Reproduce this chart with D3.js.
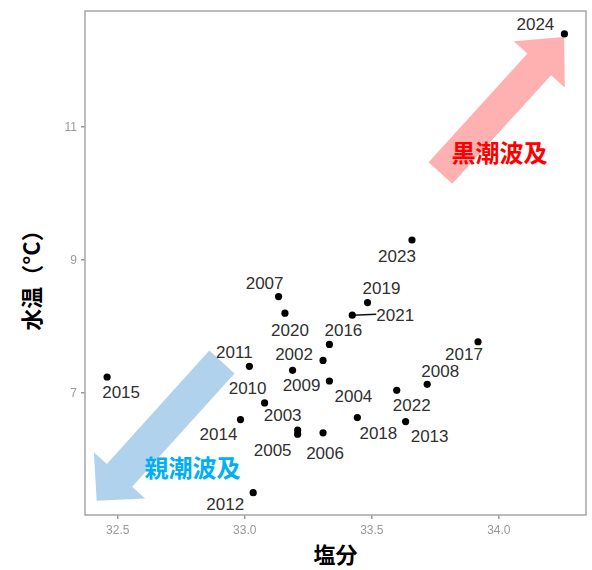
<!DOCTYPE html>
<html>
<head>
<meta charset="utf-8">
<script src="https://cdn.jsdelivr.net/npm/d3@7"></script>
<style>
  html, body { margin: 0; padding: 0; background: #fff; }
  svg { display: block; }
</style>
</head>
<body>
<script>
// Yearly salinity / water temperature observations
const years = [2002, 2003, 2004, 2005, 2006, 2007, 2008, 2009, 2010, 2011, 2012, 2013,
               2014, 2015, 2016, 2017, 2018, 2019, 2020, 2021, 2022, 2023, 2024];
const salinity = [33.31, 33.21, 33.335, 33.21, 33.31, 33.135, 33.72, 33.19, 33.08, 33.02, 33.035, 33.635,
                  32.985, 32.46, 33.335, 33.92, 33.445, 33.485, 33.16, 33.425, 33.60, 33.66, 34.26];
const temperature = [7.48, 6.43, 7.17, 6.37, 6.39, 8.44, 7.12, 7.33, 6.84, 7.39, 5.49, 6.56,
                     6.59, 7.23, 7.72, 7.76, 6.62, 8.35, 8.19, 8.16, 7.03, 9.29, 12.39];

// Axis ticks
const xTicks = [32.5, 33.0, 33.5, 34.0];
const yTicks = [7, 9, 11];

// Annotation arrows (data coordinates: tail centre -> tip) and their captions
const arrowTails = [[33.772, 10.298], [32.912, 7.456]];
const arrowTips  = [[34.259, 12.343], [32.419, 5.370]];
const captions = ["黒潮波及", "親潮波及"];
const captionAt = [[34.005, 10.62], [32.796, 5.877]];

// Label placement relative to each point (px), in year order
const labelOffsets = [[-29, -6], [-15, -15], [24, 15], [-25, 16], [2, 21], [-14, -13], [13, -13], [9, 15],
                      [-17, -14], [-15, -14], [-28, 12], [24, 15], [-22, 15], [14, 15], [14, -14], [-14, 13],
                      [21, 16], [14, -14], [5, 17], [43, 0], [15, 15], [-15, 16], [-29, -9]];
// Labels that are joined to their point by a leader segment
const leaderYears = [2021];

const W = 592, H = 570;
const panel = { left: 85, right: 586, top: 11, bottom: 515 };

const svg = d3.select("body").append("svg").attr("width", W).attr("height", H);

const x = d3.scaleLinear().domain([32.373, 34.345]).range([panel.left, panel.right]);
const y = d3.scaleLinear().domain([5.155, 12.734]).range([panel.bottom, panel.top]);

const defs = svg.append("defs");
defs.append("filter").attr("id", "soft")
  .append("feGaussianBlur").attr("stdDeviation", 0.45);

// Axes
const xAxis = svg.append("g")
  .attr("transform", `translate(0,${panel.bottom})`)
  .call(d3.axisBottom(x).tickValues(xTicks).tickFormat(d3.format(".1f")).tickSize(4).tickPadding(6));
const yAxis = svg.append("g")
  .attr("transform", `translate(${panel.left},0)`)
  .call(d3.axisLeft(y).tickValues(yTicks).tickFormat(d3.format("d")).tickSize(4).tickPadding(4));
[xAxis, yAxis].forEach(g => {
  g.select(".domain").remove();
  g.selectAll(".tick line").attr("stroke", "#8a8a8a").attr("stroke-width", 1.3);
  g.selectAll(".tick text")
    .attr("fill", "#999999")
    .attr("font-family", "'Liberation Sans', Arial, sans-serif")
    .attr("font-size", 12)
    .attr("filter", "url(#soft)");
});

// Panel border
svg.append("rect")
  .attr("x", panel.left).attr("y", panel.top)
  .attr("width", panel.right - panel.left).attr("height", panel.bottom - panel.top)
  .attr("fill", "none").attr("stroke", "#a6a6a6").attr("stroke-width", 1.5);

// Block arrow built along the tail->tip direction
function arrowPath(t, p, halfShaft, halfHead, headLen) {
  const dx = p[0] - t[0], dy = p[1] - t[1];
  const len = Math.hypot(dx, dy);
  const ux = dx / len, uy = dy / len;
  const nx = -uy, ny = ux;
  const bx = p[0] - ux * headLen, by = p[1] - uy * headLen;
  const pts = [
    [t[0] + nx * halfShaft, t[1] + ny * halfShaft],
    [bx + nx * halfShaft, by + ny * halfShaft],
    [bx + nx * halfHead, by + ny * halfHead],
    p,
    [bx - nx * halfHead, by - ny * halfHead],
    [bx - nx * halfShaft, by - ny * halfShaft],
    [t[0] - nx * halfShaft, t[1] - ny * halfShaft]
  ];
  return d3.line()(pts) + "Z";
}

const arrowFill = ["#ffb0b1", "#b0d2ec"];
const arrowDims = [[16, 34.5, 37], [17, 34.5, 34]];
svg.append("g").selectAll("path")
  .data(arrowTails)
  .join("path")
  .attr("d", (d, i) => arrowPath([x(d[0]), y(d[1])], [x(arrowTips[i][0]), y(arrowTips[i][1])],
                                 arrowDims[i][0], arrowDims[i][1], arrowDims[i][2]))
  .attr("fill", (d, i) => arrowFill[i]);

svg.append("g").selectAll("text")
  .data(captions)
  .join("text")
  .attr("x", (d, i) => x(captionAt[i][0]))
  .attr("y", (d, i) => y(captionAt[i][1]))
  .attr("text-anchor", "middle")
  .attr("dominant-baseline", "central")
  .attr("font-family", "'Noto Sans CJK JP', sans-serif")
  .attr("font-weight", 700)
  .attr("font-size", 24)
  .attr("fill", (d, i) => i === 0 ? "#ff0000" : "#00b0f0")
  .text(d => d);

// Points and year labels
const pts = years.map((yr, i) => ({
  year: yr,
  px: x(salinity[i]),
  py: y(temperature[i]),
  lx: x(salinity[i]) + labelOffsets[i][0],
  ly: y(temperature[i]) + labelOffsets[i][1]
}));

svg.append("g").selectAll("line")
  .data(pts.filter(d => leaderYears.includes(d.year)))
  .join("line")
  .attr("x1", d => d.px).attr("y1", d => d.py)
  .attr("x2", d => d.lx - 19).attr("y2", d => d.ly - 1)
  .attr("stroke", "#111").attr("stroke-width", 1.5);

svg.append("g").selectAll("circle")
  .data(pts)
  .join("circle")
  .attr("cx", d => d.px).attr("cy", d => d.py)
  .attr("r", 3.6)
  .attr("fill", "#000");

svg.append("g").selectAll("text")
  .data(pts)
  .join("text")
  .attr("x", d => d.lx).attr("y", d => d.ly)
  .attr("text-anchor", "middle")
  .attr("dominant-baseline", "central")
  .attr("font-family", "'Liberation Sans', Arial, sans-serif")
  .attr("font-size", 17)
  .attr("fill", "#303030")
  .text(d => d.year);

// Axis titles
svg.append("text")
  .attr("x", (panel.left + panel.right) / 2)
  .attr("y", 553)
  .attr("text-anchor", "middle")
  .attr("dominant-baseline", "central")
  .attr("font-family", "'Noto Sans CJK JP', sans-serif")
  .attr("font-weight", 700)
  .attr("font-size", 22)
  .attr("fill", "#000")
  .text("塩分");

svg.append("text")
  .attr("transform", "translate(30,275) rotate(-90)")
  .attr("text-anchor", "middle")
  .attr("dominant-baseline", "central")
  .attr("font-family", "'Noto Sans CJK JP', sans-serif")
  .attr("font-weight", 700)
  .attr("font-size", 22)
  .attr("fill", "#000")
  .text("水温（°C）");
</script>
</body>
</html>
